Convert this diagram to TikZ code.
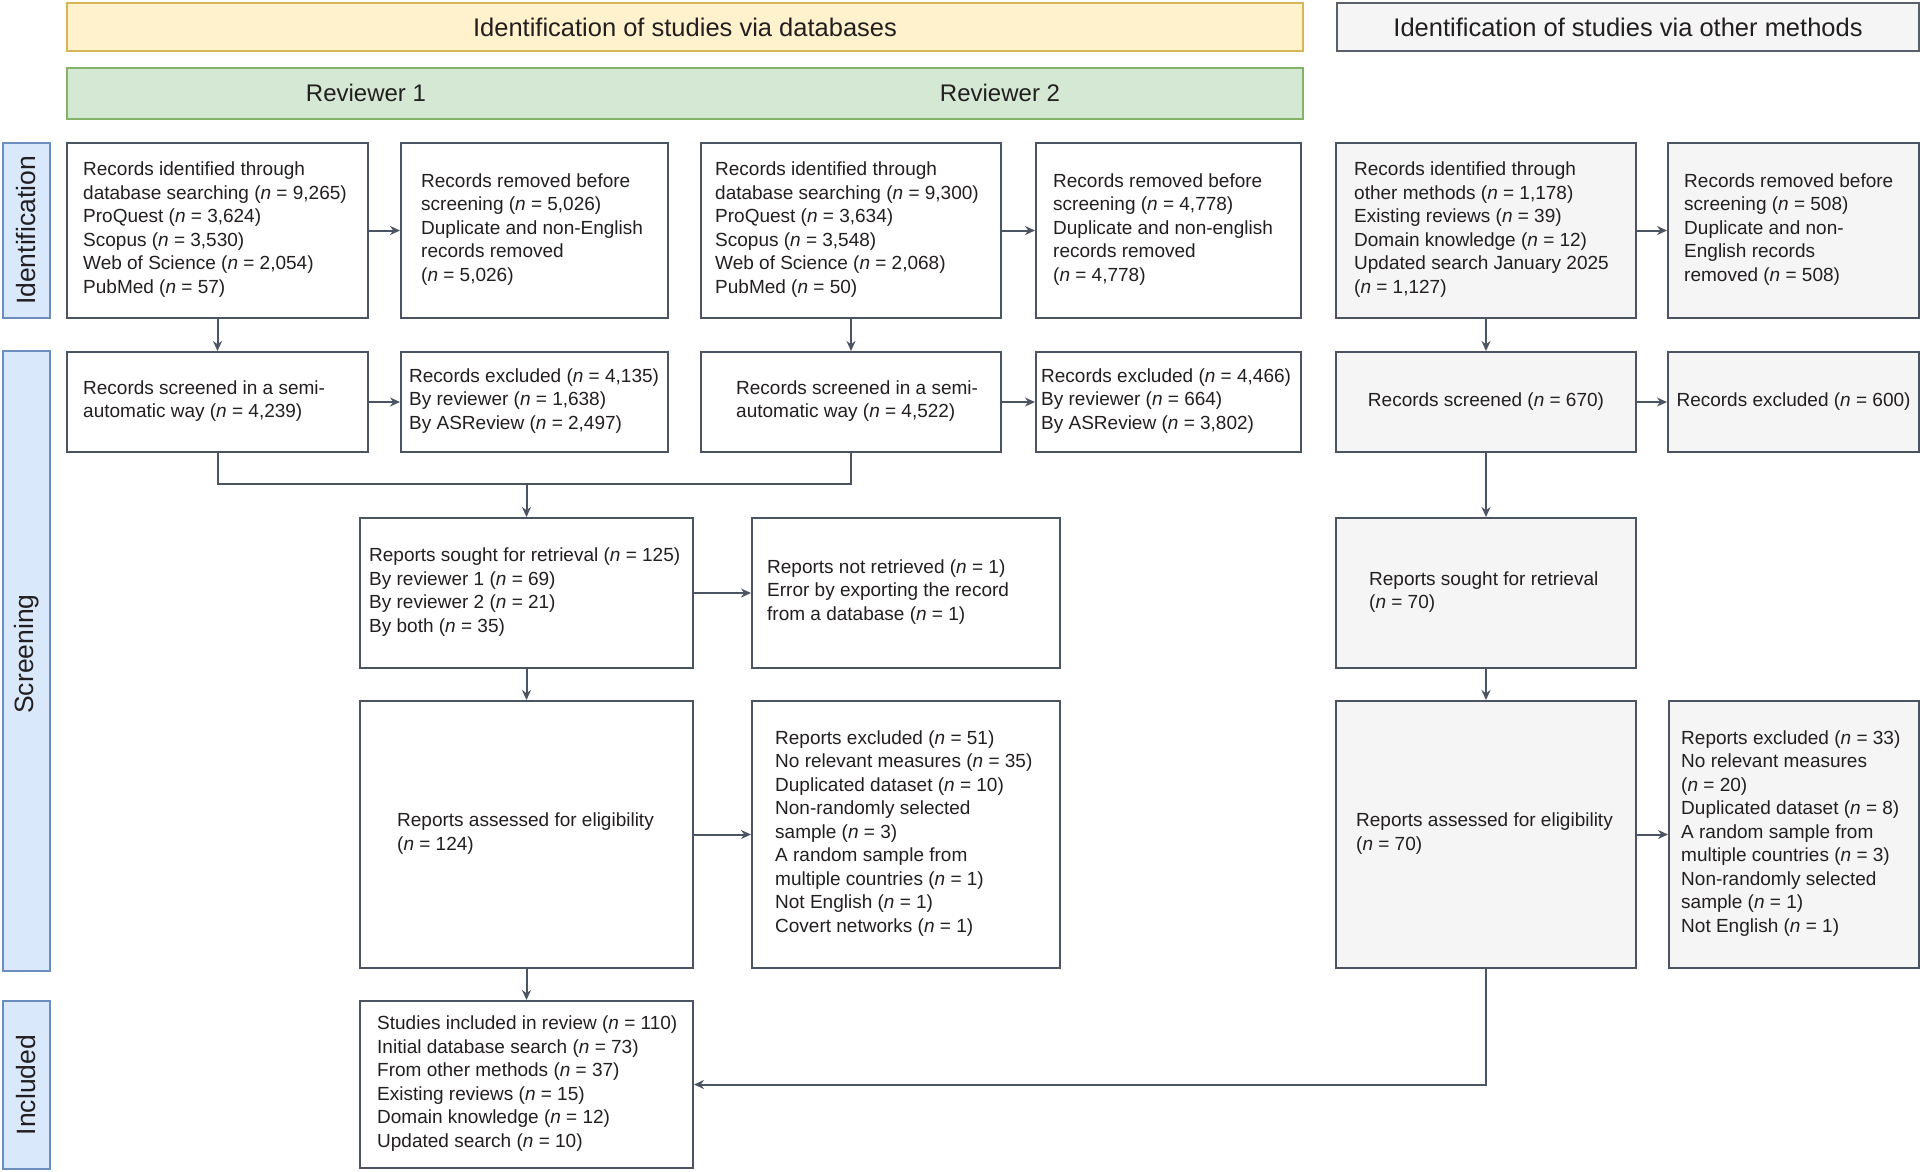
\documentclass[tikz,border=0pt]{standalone}
\usepackage{fontspec}
\setmainfont{Liberation Sans}
\usetikzlibrary{arrows.meta}
\definecolor{edgec}{HTML}{4A5462}
\definecolor{txtc}{HTML}{231F20}
\definecolor{yfill}{HTML}{FFF2CC}
\definecolor{yedge}{HTML}{D6B656}
\definecolor{gfill}{HTML}{D5E8D4}
\definecolor{gedge}{HTML}{82B366}
\definecolor{bfill}{HTML}{DAE8FC}
\definecolor{bedge}{HTML}{6C8EBF}
\definecolor{grfill}{HTML}{F5F5F5}
\definecolor{gredge}{HTML}{5A606A}
\newcommand{\nval}[1]{(\textit{n} = #1)}
\begin{document}
\begin{tikzpicture}[x=1pt,y=-1pt,
  box/.style={draw=edgec, line width=2pt, fill=white, inner sep=0pt, anchor=north west},
  obox/.style={box, fill=grfill},
  txt/.style={inner sep=0pt, anchor=west, align=left, text=txtc, font=\fontsize{19}{23.5}\selectfont},
  ctxt/.style={text=txtc, font=\fontsize{19}{23.5}\selectfont},
  hdr/.style={inner sep=0pt, anchor=north west, line width=2pt, text=txtc, font=\fontsize{25.5}{30}\selectfont},
  side/.style={inner sep=0pt, anchor=north west, draw=bedge, fill=bfill, line width=2pt},
  sidet/.style={rotate=90, text=txtc, font=\fontsize{26.5}{30}\selectfont},
  arr/.style={draw=edgec, line width=2pt, -{Stealth[length=10pt,width=9pt]}},
  ln/.style={draw=edgec, line width=2pt}
]
\useasboundingbox (0,0) rectangle (1920,1171);

% headers
\node[hdr, draw=yedge, fill=yfill, minimum width=1236pt, minimum height=48pt] (hy) at (66,2) {};
\node[ctxt, font=\fontsize{25.5}{30}\selectfont] (hyt) at (hy.center) {Identification of studies via databases};
\node[hdr, draw=gredge, fill=grfill, minimum width=582pt, minimum height=48pt] (hg) at (1336,2) {};
\node[ctxt, font=\fontsize{25.5}{30}\selectfont] (hgt) at (hg.center) {Identification of studies via other methods};
\node[hdr, draw=gedge, fill=gfill, minimum width=1236pt, minimum height=51pt] (hr) at (66,67) {};
\node[ctxt, font=\fontsize{24}{30}\selectfont] (r1t) at (366,92.5) {Reviewer 1};
\node[ctxt, font=\fontsize{24}{30}\selectfont] (r2t) at (1000,92.5) {Reviewer 2};

% side labels
\node[side, minimum width=47pt, minimum height=175pt] (sid) at (2,142) {};
\node[sidet] (sidt) at (sid.center) {Identification};
\node[side, minimum width=47pt, minimum height=620pt] (sscr) at (2,350) {};
\node[sidet] (sscrt) at ([yshift=7pt]sscr.center) {Screening};
\node[side, minimum width=47pt, minimum height=168pt] (sinc) at (2,1000) {};
\node[sidet] (sinct) at (sinc.center) {Included};

% row 1
\node[box, minimum width=301pt, minimum height=175pt] (a1) at (66,142) {};
\node[box, minimum width=267pt, minimum height=175pt] (b1) at (400,142) {};
\node[box, minimum width=300pt, minimum height=175pt] (a2) at (700,142) {};
\node[box, minimum width=265pt, minimum height=175pt] (b2) at (1035,142) {};
\node[obox, minimum width=300pt, minimum height=175pt] (c1) at (1335,142) {};
\node[obox, minimum width=251pt, minimum height=175pt] (d1) at (1667,142) {};

\node[txt] (a1t) at (83,229.5) {Records identified through\\database searching \nval{9,265}\\ProQuest \nval{3,624}\\Scopus \nval{3,530}\\Web of Science \nval{2,054}\\PubMed \nval{57}};
\node[txt] (b1t) at (421,229.5) {Records removed before\\screening \nval{5,026}\\Duplicate and non-English\\records removed\\\nval{5,026}};
\node[txt] (a2t) at (715,229.5) {Records identified through\\database searching \nval{9,300}\\ProQuest \nval{3,634}\\Scopus \nval{3,548}\\Web of Science \nval{2,068}\\PubMed \nval{50}};
\node[txt] (b2t) at (1053,229.5) {Records removed before\\screening \nval{4,778}\\Duplicate and non-english\\records removed\\\nval{4,778}};
\node[txt] (c1t) at (1354,229.5) {Records identified through\\other methods \nval{1,178}\\Existing reviews \nval{39}\\Domain knowledge \nval{12}\\Updated search January 2025\\\nval{1,127}};
\node[txt] (d1t) at (1684,229.5) {Records removed before\\screening \nval{508}\\Duplicate and non-\\English records\\removed \nval{508}};

% row 2
\node[box, minimum width=301pt, minimum height=100pt] (a1s) at (66,351) {};
\node[box, minimum width=267pt, minimum height=100pt] (b1s) at (400,351) {};
\node[box, minimum width=300pt, minimum height=100pt] (a2s) at (700,351) {};
\node[box, minimum width=265pt, minimum height=100pt] (b2s) at (1035,351) {};
\node[obox, minimum width=300pt, minimum height=100pt] (c2) at (1335,351) {};
\node[obox, minimum width=251pt, minimum height=100pt] (d2) at (1667,351) {};

\node[txt] (a1st) at (83,401) {Records screened in a semi-\\automatic way \nval{4,239}};
\node[txt] (b1st) at (409,401) {Records excluded \nval{4,135}\\By reviewer \nval{1,638}\\By ASReview \nval{2,497}};
\node[txt] (a2st) at (736,401) {Records screened in a semi-\\automatic way \nval{4,522}};
\node[txt] (b2st) at (1041,401) {Records excluded \nval{4,466}\\By reviewer \nval{664}\\By ASReview \nval{3,802}};
\node[ctxt] (c2t) at (c2.center) {Records screened \nval{670}};
\node[ctxt] (d2t) at (d2.center) {Records excluded \nval{600}};

% row 3
\node[box, minimum width=333pt, minimum height=150pt] (r) at (359,517) {};
\node[box, minimum width=308pt, minimum height=150pt] (nr) at (751,517) {};
\node[obox, minimum width=300pt, minimum height=150pt] (c3) at (1335,517) {};

\node[txt] (rt) at (369,592) {Reports sought for retrieval \nval{125}\\By reviewer 1 \nval{69}\\By reviewer 2 \nval{21}\\By both \nval{35}};
\node[txt] (nrt) at (767,592) {Reports not retrieved \nval{1}\\Error by exporting the record\\from a database \nval{1}};
\node[txt] (c3t) at (1369,592) {Reports sought for retrieval\\\nval{70}};

% row 4
\node[box, minimum width=333pt, minimum height=267pt] (e) at (359,700) {};
\node[box, minimum width=308pt, minimum height=267pt] (x) at (751,700) {};
\node[obox, minimum width=300pt, minimum height=267pt] (c4) at (1335,700) {};
\node[obox, minimum width=250pt, minimum height=267pt] (d4) at (1668,700) {};

\node[txt] (et) at (397,833.5) {Reports assessed for eligibility\\\nval{124}};
\node[txt] (xt) at (775,833.5) {Reports excluded \nval{51}\\No relevant measures \nval{35}\\Duplicated dataset \nval{10}\\Non-randomly selected\\sample \nval{3}\\A random sample from\\multiple countries \nval{1}\\Not English \nval{1}\\Covert networks \nval{1}};
\node[txt] (c4t) at (1356,833.5) {Reports assessed for eligibility\\\nval{70}};
\node[txt] (d4t) at (1681,833.5) {Reports excluded \nval{33}\\No relevant measures\\\nval{20}\\Duplicated dataset \nval{8}\\A random sample from\\multiple countries \nval{3}\\Non-randomly selected\\sample \nval{1}\\Not English \nval{1}};

% row 5
\node[box, minimum width=333pt, minimum height=167pt] (inc) at (359,1000) {};
\node[txt] (inct) at (377,1083.5) {Studies included in review \nval{110}\\Initial database search \nval{73}\\From other methods \nval{37}\\Existing reviews \nval{15}\\Domain knowledge \nval{12}\\Updated search \nval{10}};

% connectors
\draw[arr] (a1.east) -- (b1.west);
\draw[arr] (a2.east) -- (b2.west);
\draw[arr] (c1.east) -- (d1.west);
\draw[arr] (a1.south) -- (a1s.north);
\draw[arr] (a2.south) -- (a2s.north);
\draw[arr] (c1.south) -- (c2.north);
\draw[arr] (a1s.east) -- (b1s.west);
\draw[arr] (a2s.east) -- (b2s.west);
\draw[arr] (c2.east) -- (d2.west);
\path (r.north) ++(0,-33) coordinate (m);
\draw[ln] (a1s.south) |- (m);
\draw[ln] (a2s.south) |- (m);
\draw[arr] (m) -- (r.north);
\draw[arr] (c2.south) -- (c3.north);
\draw[arr] (r.east) -- (nr.west);
\draw[arr] (r.south) -- (e.north);
\draw[arr] (c3.south) -- (c4.north);
\draw[arr] (e.east) -- (x.west);
\draw[arr] (c4.east) -- (d4.west);
\draw[arr] (e.south) -- (inc.north);
\draw[arr] (c4.south) |- (inc.east);
\end{tikzpicture}
\end{document}
